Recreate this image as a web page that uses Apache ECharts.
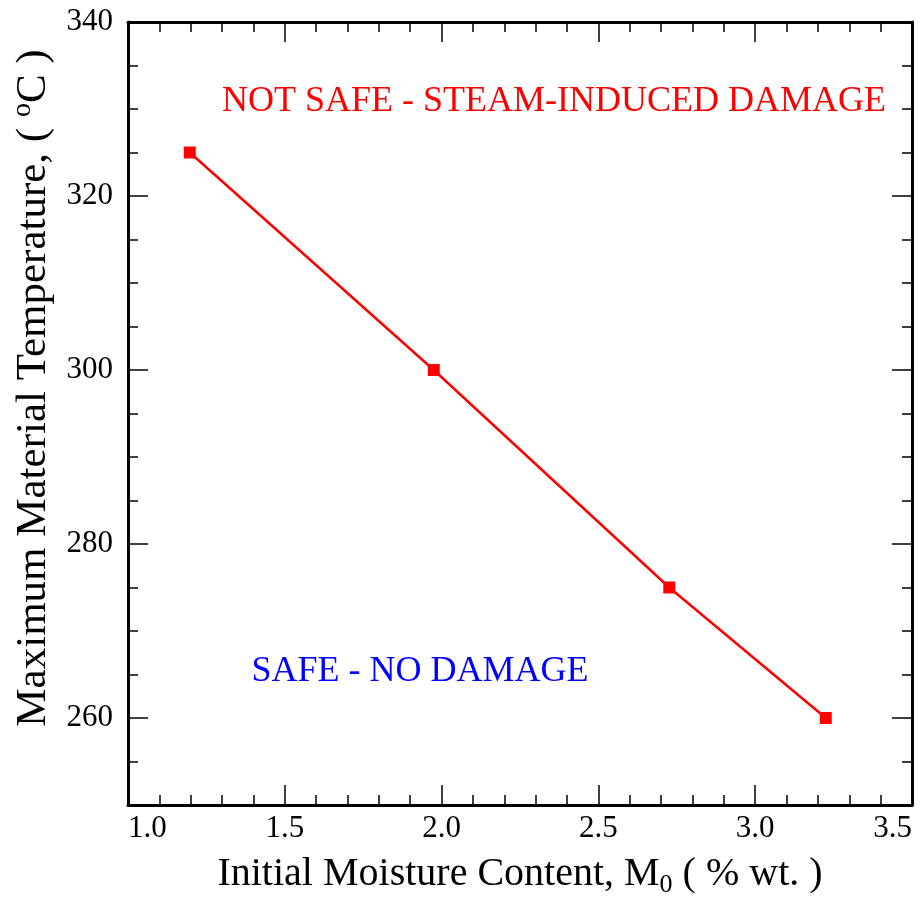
<!DOCTYPE html>
<html><head><meta charset="utf-8">
<script src="https://cdn.jsdelivr.net/npm/echarts@6/dist/echarts.min.js"></script>
<style>html,body{margin:0;padding:0;background:#fff}#c{width:922px;height:899px}</style>
</head><body><div id="c"></div>
<script>
const moisture = [1.197, 1.975, 2.726, 3.225];
const maxTemp = [325, 300, 275, 260];
const yMajorTicks = [260, 280, 300, 320, 340];
const xTitle = 'Initial Moisture Content, M';
const yTitle = 'Maximum Material Temperature, ( ';
const unsafeText = 'NOT SAFE - STEAM-INDUCED DAMAGE';
const safeText = 'SAFE - NO DAMAGE';

const FONT = 'Liberation Serif';
const chart = echarts.init(document.getElementById('c'));
const lineStyle = {color: '#000', width: 3};
function xAx(pos, labels) {
  return {type: 'value', position: pos, min: 1.0, max: 3.5, interval: 0.5,
    axisLine: {show: true, onZero: false, lineStyle},
    axisTick: {show: true, inside: true, length: 20, lineStyle: {color: '#000', width: 1.5}},
    minorTick: {show: true, splitNumber: 5, length: 10, lineStyle: {color: '#000', width: 1.5}},
    splitLine: {show: false},
    axisLabel: {show: labels, fontFamily: FONT, fontSize: 31, color: '#000', margin: 8,
      alignMinLabel: 'left', alignMaxLabel: 'right',
      formatter: v => v.toFixed(1)}};
}
function yMinor(pos, labels) {
  return {type: 'value', position: pos, min: 250, max: 340, interval: 5,
    axisLine: {show: true, onZero: false, lineStyle},
    axisTick: {show: true, inside: true, length: 10, lineStyle: {color: '#000', width: 1.5}},
    splitLine: {show: false},
    axisLabel: {show: labels, customValues: yMajorTicks, fontFamily: FONT, fontSize: 31, color: '#000', margin: 15}};
}
function yMajor(pos) {
  return {type: 'value', position: pos, min: 250, max: 340, interval: 5,
    axisLine: {show: false},
    axisTick: {show: true, inside: true, length: 20, customValues: yMajorTicks, lineStyle: {color: '#000', width: 1.5}},
    splitLine: {show: false},
    axisLabel: {show: false}};
}
chart.setOption({
  animation: false,
  grid: {left: 128, right: 10, top: 22, bottom: 94, outerBoundsMode: 'none', containLabel: false},
  xAxis: [xAx('bottom', true), xAx('top', false)],
  yAxis: [yMinor('left', true), yMinor('right', false), yMajor('left'), yMajor('right')],
  series: [{
    type: 'line', xAxisIndex: 0, yAxisIndex: 0,
    data: moisture.map((x, i) => [x, maxTemp[i]]),
    symbol: 'rect', symbolSize: 12,
    lineStyle: {color: '#ff0000', width: 2.5},
    itemStyle: {color: '#ff0000'}
  }],
  graphic: [
    {type: 'text', x: 520, y: 874, style: {
      text: '{b|' + xTitle + '}{s|0}{b| ( % wt. )}', align: 'center', verticalAlign: 'middle',
      rich: {b: {fontFamily: FONT, fontSize: 40, lineHeight: 48, fill: '#000'},
             s: {fontFamily: FONT, fontSize: 26, lineHeight: 26, verticalAlign: 'bottom', fill: '#000'}}}},
    {type: 'text', x: 34, y: 388, rotation: Math.PI / 2, style: {
      text: '{b|' + yTitle + '}{s|o}{b|C )}', align: 'center', verticalAlign: 'middle',
      rich: {b: {fontFamily: FONT, fontSize: 43, lineHeight: 50, fill: '#000'},
             s: {fontFamily: FONT, fontSize: 28, lineHeight: 28, verticalAlign: 'top', fill: '#000'}}}},
    {type: 'text', x: 554, y: 102, style: {text: unsafeText, align: 'center', verticalAlign: 'middle',
      fontFamily: FONT, fontSize: 36, fill: '#ff0000'}},
    {type: 'text', x: 420, y: 672, style: {text: safeText, align: 'center', verticalAlign: 'middle',
      fontFamily: FONT, fontSize: 36, fill: '#0000ff'}}
  ]
});
</script></body></html>
